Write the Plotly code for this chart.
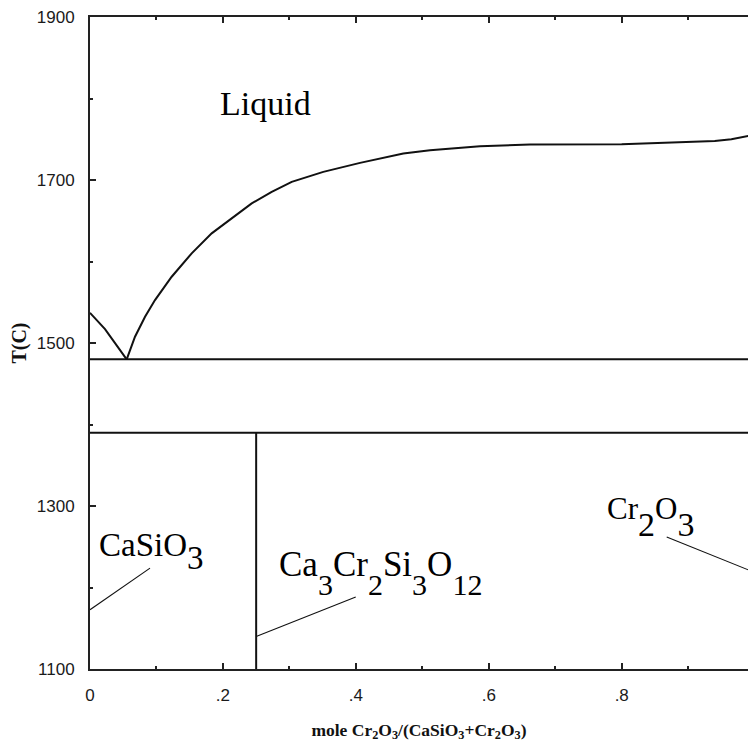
import plotly.graph_objects as go

# Liquidus on the CaSiO3-rich side (melting point of CaSiO3 down to the eutectic)
liq_left_x = [0.0, 0.0226, 0.0552]
liq_left_t = [1537, 1517, 1480]

# Liquidus on the Cr2O3-rich side
liq_right_x = [0.0552, 0.0677, 0.0828, 0.0978, 0.1229, 0.153, 0.1831, 0.2132,
               0.2433, 0.2734, 0.3035, 0.351, 0.4063, 0.4714, 0.5116, 0.5868,
               0.662, 0.80, 0.85, 0.91, 0.94, 0.965, 0.99, 1.0]
liq_right_t = [1480, 1507.7, 1532.3, 1552.7, 1581.3, 1610, 1634.5, 1652.9,
               1671.3, 1685.5, 1697.7, 1710, 1721, 1732.6, 1736.6, 1741.5,
               1743.6, 1744, 1745.5, 1746.5, 1748, 1750, 1754, 1755.5]

# Invariant lines
eutectic_t = 1480
lower_iso_t = 1390
garnet_x = 0.25
iso_x = [0.0, 1.0]

# Phase-label leader lines
lead_casio3_x = [0.0, 0.0903]
lead_casio3_t = [1172.7, 1223.8]
lead_garnet_x = [0.25, 0.3998]
lead_garnet_t = [1140, 1188.3]
lead_cr2o3_x = [0.8677, 1.0]
lead_cr2o3_t = [1261.9, 1218.5]

# Axis ticks
x_ticks = [0, 0.2, 0.4, 0.6, 0.8]
x_tick_text = ["0", ".2", ".4", ".6", ".8"]
y_ticks = [1100, 1300, 1500, 1700, 1900]

INK = "#111111"
AX = "#222222"

fig = go.Figure()


def add_line(x, y, width=2.0):
    fig.add_trace(go.Scatter(x=x, y=y, mode="lines",
                             line=dict(color=INK, width=width),
                             hoverinfo="skip", showlegend=False))


add_line(liq_left_x, liq_left_t)
add_line(liq_right_x, liq_right_t)
add_line(iso_x, [eutectic_t, eutectic_t])
add_line(iso_x, [lower_iso_t, lower_iso_t])
add_line([garnet_x, garnet_x], [1100, lower_iso_t])
add_line(lead_casio3_x, lead_casio3_t, 1.1)
add_line(lead_garnet_x, lead_garnet_t, 1.1)
add_line(lead_cr2o3_x, lead_cr2o3_t, 1.1)

SERIF = "Liberation Serif, Times New Roman, serif"


def formula(parts, main, sub):
    """Build a chemical formula with full-height subscripts."""
    out = ""
    for text, is_sub in parts:
        if is_sub:
            out += f'<sub><span style="font-size:{sub}px">{text}</span></sub>'
        else:
            out += f'<span style="font-size:{main}px">{text}</span>'
    return out


labels = [
    dict(x=0.1926, y=1768.5, text="Liquid", size=34),
    dict(x=0.011, y=1211.5,
         text=formula([("CaSiO", False), ("3", True)], 33, 33), size=62),
    dict(x=0.2815, y=1181,
         text=formula([("Ca", False), ("3", True), ("Cr", False), ("2", True),
                       ("Si", False), ("3", True), ("O", False), ("12", True)], 35, 30),
         size=90),
    dict(x=0.7755, y=1252,
         text=formula([("Cr", False), ("2", True), ("O", False), ("3", True)], 31, 34),
         size=80),
]
for lab in labels:
    fig.add_annotation(x=lab["x"], y=lab["y"], xref="x", yref="y",
                       text=lab["text"], showarrow=False,
                       xanchor="left", yanchor="bottom",
                       font=dict(family=SERIF, size=lab["size"], color="#000000"))

TICKFONT = dict(family="Liberation Sans Narrow, Arial Narrow, Liberation Sans, sans-serif",
                size=17, color="#1a1a1a")

fig.update_xaxes(
    range=[0, 0.990], showgrid=False, zeroline=False,
    showline=True, linecolor=AX, linewidth=2, mirror="ticks",
    ticks="inside", ticklen=6, tickwidth=2, tickcolor=AX,
    tickvals=x_ticks, ticktext=x_tick_text, tickfont=TICKFONT,
    ticklabelstandoff=10,
    minor=dict(ticks="inside", ticklen=3, tickwidth=2, tickcolor=AX, dtick=0.1, tick0=0),
    title=dict(text="mole Cr<sub>2</sub>O<sub>3</sub>/(CaSiO<sub>3</sub>+Cr<sub>2</sub>O<sub>3</sub>)",
               font=dict(family="Liberation Serif, serif", size=17.5, color="#111111",
                         weight="bold"),
               standoff=19),
)
fig.update_yaxes(
    range=[1100, 1900], showgrid=False, zeroline=False,
    showline=True, linecolor=AX, linewidth=2,
    ticks="inside", ticklen=6, tickwidth=2, tickcolor=AX,
    tickvals=y_ticks, tickfont=TICKFONT, ticklabelstandoff=10,
    minor=dict(ticks="inside", ticklen=3, tickwidth=2, tickcolor=AX, dtick=100, tick0=1100),
    title=dict(text="T(C)",
               font=dict(family="Liberation Serif, serif", size=20, color="#111111",
                         weight="bold"),
               standoff=5),
)

fig.update_layout(
    width=748, height=751,
    margin=dict(l=90, r=0, t=17, b=82),
    paper_bgcolor="white", plot_bgcolor="white",
    showlegend=False,
)

fig.write_html("out.html")
